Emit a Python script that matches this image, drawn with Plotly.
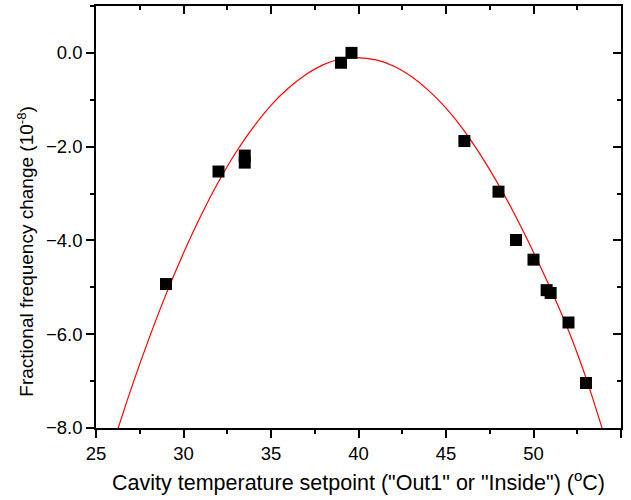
import plotly.graph_objects as go

# Measured data points
temp = [29.0, 32.0, 33.5, 33.5, 39.0, 39.6, 46.05, 48.0, 49.0, 50.0, 50.75, 50.98, 52.0, 53.0]
freq = [-4.93, -2.53, -2.19, -2.34, -0.21, 0.0, -1.88, -2.96, -3.99, -4.41, -5.06, -5.12, -5.75, -7.04]

# Fit curve
fit_x = [26.25, 27.0, 28.0, 29.0, 30.0, 31.0, 32.0, 33.0, 34.0, 35.0, 36.0, 37.0, 38.0, 39.0, 39.9,
         41.0, 42.0, 43.0, 44.0, 45.0, 46.0, 47.0, 48.0, 49.0, 50.0, 51.0, 52.0, 53.0, 53.9, 54.0]
fit_y = [-8.02, -7.17, -6.12, -5.15, -4.27, -3.47, -2.75, -2.12, -1.58, -1.12, -0.75, -0.46, -0.25, -0.13, -0.10,
         -0.15, -0.28, -0.50, -0.80, -1.18, -1.64, -2.19, -2.81, -3.50, -4.25, -5.05, -5.92, -6.93, -7.98, -8.10]

x_ticks = [25, 30, 35, 40, 45, 50, 55]
y_ticks = [-8, -6, -4, -2, 0]
y_labels = ["\u22128.0", "\u22126.0", "\u22124.0", "\u22122.0", "0.0"]

FONT = "Arial, Liberation Sans, sans-serif"

fig = go.Figure()
fig.add_trace(go.Scatter(x=fit_x, y=fit_y, mode="lines", line=dict(color="#ff0000", width=1.2, shape="spline", smoothing=0.8),
                         hoverinfo="skip", showlegend=False))
fig.add_trace(go.Scatter(x=temp, y=freq, mode="markers",
                         marker=dict(symbol="square", size=12, color="black", line=dict(width=0)),
                         showlegend=False))

axis_common = dict(showgrid=False, zeroline=False, showline=True, linecolor="black", linewidth=1.5,
                   tickcolor="black", tickwidth=1.5, ticklen=8)

fig.update_layout(
    width=631, height=500,
    margin=dict(l=96, r=10, t=6, b=72),
    paper_bgcolor="white", plot_bgcolor="white",
    font=dict(family=FONT, color="black"),
    xaxis=dict(range=[25, 55], tickvals=x_ticks, ticktext=[str(v) for v in x_ticks], ticks="outside",
               minor=dict(dtick=2.5, tick0=25, ticks="outside", ticklen=4, tickcolor="black", tickwidth=1.5),
               tickfont=dict(size=18.5),
               title=dict(text='Cavity temperature setpoint ("Out1" or "Inside") (<sup>o</sup>C)',
                          font=dict(size=21.5), standoff=12),
               **axis_common),
    yaxis=dict(range=[-8, 1], tickvals=y_ticks, ticktext=y_labels, ticks="outside",
               minor=dict(dtick=1, tick0=0, ticks="outside", ticklen=4, tickcolor="black", tickwidth=1.5),
               tickfont=dict(size=18.5),
               **axis_common),
    xaxis2=dict(range=[25, 55], overlaying="x", side="top", tickvals=x_ticks, showticklabels=False,
                ticks="inside", minor=dict(dtick=2.5, tick0=25, ticks="inside", ticklen=4, tickcolor="black", tickwidth=1.5),
                **axis_common),
    yaxis2=dict(range=[-8, 1], overlaying="y", side="right", tickvals=y_ticks, showticklabels=False,
                ticks="inside", minor=dict(dtick=1, tick0=0, ticks="inside", ticklen=4, tickcolor="black", tickwidth=1.5),
                **axis_common),
    annotations=[dict(text="Fractional frequency change (10<sup>-8</sup>)", textangle=-90,
                      xref="paper", yref="paper", x=-0.135, y=0.418, xanchor="center", yanchor="middle",
                      showarrow=False, font=dict(size=19))],
)
# invisible trace to activate the mirrored axes
fig.add_trace(go.Scatter(x=[25], y=[-8], xaxis="x2", yaxis="y2", mode="markers",
                         marker=dict(opacity=0), hoverinfo="skip", showlegend=False))

fig.write_html("out.html")
